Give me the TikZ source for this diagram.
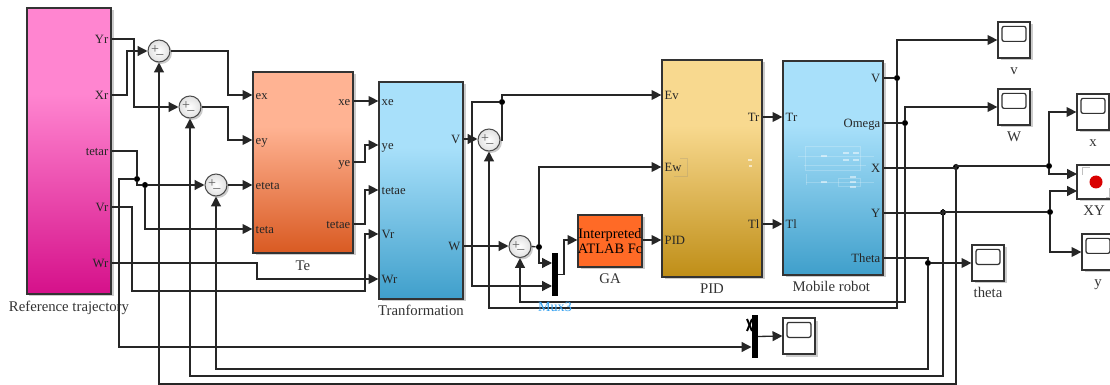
\documentclass[tikz,border=0pt]{standalone}
\usepackage{fontspec}
\setmainfont{Liberation Serif}
\usetikzlibrary{positioning, arrows.meta, shadows}
\newcommand{\px}{0.02cm}
\definecolor{reftop}{RGB}{255,133,208}
\definecolor{refbot}{RGB}{213,16,138}
\definecolor{tetop}{RGB}{255,179,147}
\definecolor{tebot}{RGB}{217,90,34}
\definecolor{bluetop}{RGB}{168,224,250}
\definecolor{bluebot}{RGB}{63,159,203}
\definecolor{pidtop}{RGB}{248,217,143}
\definecolor{pidbot}{RGB}{191,142,23}
\newcommand{\blockgrad}[3]{\pgfdeclareverticalshading{#1}{100bp}{color(0bp)=(#3); color(25bp)=(#3); color(60bp)=(#2); color(100bp)=(#2)}}
\blockgrad{refgrad}{reftop}{refbot}
\blockgrad{tegrad}{tetop}{tebot}
\blockgrad{bluegrad}{bluetop}{bluebot}
\blockgrad{pidgrad}{pidtop}{pidbot}
\tikzset{
  sig/.style = {draw = black!85, line width = 0.75pt, >={Triangle[length = 5.6pt, width = 5.6pt]}},
  block/.style = {draw = black!80, line width = 0.7pt, inner sep = 0pt,
    drop shadow = {shadow xshift = 0.05cm, shadow yshift = -0.05cm, opacity = 0.4}},
  sumnode/.style = {circle, draw = black!70, line width = 0.6pt, inner sep = 0pt, minimum size = 22*\px,
    inner color = white, outer color = black!12,
    drop shadow = {shadow xshift = 0.04cm, shadow yshift = -0.04cm, opacity = 0.4}},
  signtext/.style = {inner sep = 0pt, font = \fontsize{8}{9}\selectfont, text = black!65},
  scopebox/.style = {block, fill = white, minimum width = 32*\px, minimum height = 36*\px},
  screen/.style = {draw = black!80, line width = 0.7pt, rounded corners = 1.2pt, minimum width = 24*\px, minimum height = 15*\px, inner sep = 0pt},
  muxbar/.style = {fill = black, inner sep = 0pt, minimum width = 6*\px},
  jdot/.style = {circle, fill = black, inner sep = 0pt, minimum size = 6*\px},
  portin/.style = {anchor = west, inner xsep = 3*\px, inner ysep = 0pt, text height = 5pt, text depth = 0pt, text = black!85, font = \fontsize{7.2}{8}\selectfont},
  portout/.style = {portin, anchor = east},
  caption/.style = {inner sep = 0pt, text height = 5.6pt, text depth = 1.6pt, text = black!80, font = \fontsize{8.4}{9}\selectfont},
  ghost/.style = {draw = white, opacity = 0.22, line width = 0.35pt},
}

\begin{document}
\begin{tikzpicture}[x = 0.02cm, y = -0.02cm]
      \useasboundingbox (0, 0) rectangle (1110, 385);
      \clip (0, 0) rectangle (1110, 385);
      \node [block, shade, shading = refgrad, minimum width = 84*\px, minimum height = 286*\px] (Ref) at (69, 151) {};
      \node [block, shade, shading = tegrad, minimum width = 100*\px, minimum height = 181*\px] (Te) at (303, 162.5) {};
      \node [block, shade, shading = bluegrad, minimum width = 84*\px, minimum height = 217*\px] (Tra) at (421, 190.5) {};
      \node [block, shade, shading = pidgrad, minimum width = 100*\px, minimum height = 217*\px] (Pid) at (712, 168.5) {};
      \node [block, shade, shading = bluegrad, minimum width = 100*\px, minimum height = 214*\px] (Rob) at (833, 168) {};
      \node [block, fill = {rgb,255:red,255;green,106;blue,38}, minimum width = 64*\px, minimum height = 52*\px] (GA) at (610, 241) {};
      \begin{scope}
        \clip (GA.south west) rectangle (GA.north east);
        \node [inner sep = 0pt, align = center, font = \fontsize{8.2}{8.8}\selectfont] (GA-text) at (GA) {Interpreted\\ATLAB Fc};
      \end{scope}
      \foreach \name/\yy in {Yr/39, Xr/95, tetar/151, Vr/207, Wr/263}{
        \node [portout] (Ref-\name) at (Ref.east |- 0, \yy) {\name};
      }
      \foreach \name/\yy in {ex/95, ey/140, eteta/185, teta/229}{
        \node [portin] (Te-\name) at (Te.west |- 0, \yy) {\name};
      }
      \foreach \name/\yy in {xe/101, ye/162, tetae/224}{
        \node [portout] (Te-\name) at (Te.east |- 0, \yy) {\name};
      }
      \foreach \name/\yy in {xe/101, ye/145, tetae/190, Vr/234, Wr/279}{
        \node [portin] (Tra-\name) at (Tra.west |- 0, \yy) {\name};
      }
      \foreach \name/\yy in {V/139, W/246}{
        \node [portout] (Tra-\name) at (Tra.east |- 0, \yy) {\name};
      }
      \foreach \name/\yy in {Ev/95, Ew/167, PID/240}{
        \node [portin] (Pid-\name) at (Pid.west |- 0, \yy) {\name};
      }
      \foreach \name/\yy in {Tr/117, Tl/224}{
        \node [portout] (Pid-\name) at (Pid.east |- 0, \yy) {\name};
        \node [portin] (Rob-\name) at (Rob.west |- 0, \yy) {\name};
      }
      \foreach \name/\yy in {V/78, Omega/123, X/168, Y/213, Theta/258}{
        \node [portout] (Rob-\name) at (Rob.east |- 0, \yy) {\name};
      }
      \node [caption, below = 0.13cm of Ref] (Ref-label) {Reference trajectory};
      \node [caption, below = 0.13cm of Te] (Te-label) {Te};
      \node [caption, below = 0.11cm of Tra] (Tra-label) {Tranformation};
      \node [caption, below = 0.11cm of Pid] (Pid-label) {PID};
      \node [caption, below = 0.11cm of Rob, xshift = -1pt] (Rob-label) {Mobile robot};
      \node [caption, below = 0.11cm of GA] (GA-label) {GA};
      \foreach \name/\xx/\yy in {sum1/159/51, sum2/190/107, sum3/216/185, sum4/489/140, sum5/520/246.5}{
        \node [sumnode] (\name) at (\xx, \yy) {};
        \node [signtext] (\name-plus) at ([xshift = -4*\px, yshift = 1*\px]\name) {+};
        \node [signtext] (\name-minus) at ([xshift = 1*\px, yshift = -3*\px]\name) {\_};
      }
      \foreach \name/\xx/\yy/\txt in {scV/1014/40/v, scW/1014/107/W, scX/1093/112/x, scY/1098/252/y, scTheta/988/263/theta}{
        \node [scopebox] (\name) at (\xx, \yy) {};
        \node [screen] (\name-screen) at ([yshift = -12.5*\px]\name.north) {};
        \node [caption, below = 0.11cm of \name] (\name-label) {\txt};
      }
      \node [scopebox] (scMux) at (799, 336) {};
      \node [screen] (scMux-screen) at ([yshift = -12.5*\px]scMux.north) {};
      \node [scopebox, minimum width = 34*\px, minimum height = 34*\px] (scXY) at (1094, 182) {};
      \node [caption, below = 0.11cm of scXY] (scXY-label) {XY};
      \draw [draw = black!25, line width = 0.4pt] (1090, 167) -- (1082, 167) -- (1082, 175);
      \draw [draw = black!25, line width = 0.4pt] (1106, 197) -- (1109, 197) -- (1109, 188);
      \fill [red!85!black] (1096, 182) circle [radius = 6.5];
      \node [muxbar, minimum height = 43*\px] (mux3) at (555, 274.5) {};
      \node [muxbar, minimum height = 43*\px] (mux2) at (754.5, 336.5) {};
      \coordinate (mux3a) at (552, 263);
      \coordinate (mux3b) at (552, 286);
      \coordinate (mux2a) at (751.5, 347);
      \coordinate (scXYa) at (1077, 174);
      \coordinate (scXYb) at (1077, 191);
      \node [jdot] (jA) at (137, 179) {};
      \node [jdot] (jB) at (145, 185) {};
      \node [jdot] (jC) at (502, 102) {};
      \node [jdot] (jD) at (539, 247) {};
      \node [jdot] (jV) at (897, 78) {};
      \node [jdot] (jW) at (905, 123) {};
      \node [jdot] (jX) at (956, 167) {};
      \node [jdot] (jY) at (943, 212.5) {};
      \node [jdot] (jTheta) at (928, 263) {};
      \node [jdot] (jX2) at (1049, 166) {};
      \node [jdot] (jY2) at (1050, 212) {};
      \draw [sig, ->] (Ref-Yr.east) -- (134, 39) |- (sum2.west);
      \draw [sig, ->] (Ref-Xr.east) -- (127, 95) |- (sum1.west);
      \draw [sig] (Ref-tetar.east) -- (137, 151) -- (jA);
      \draw [sig, ->] (jA) -- (137, 185) -- (jB) -- (sum3.west);
      \draw [sig, ->] (jB) |- (Te-teta.west);
      \draw [sig, ->] (jA) -| (119, 347) -- (mux2a);
      \draw [sig, ->] (Ref-Vr.east) -- (132, 207) |- (365, 291) |- (Tra-Vr.west);
      \draw [sig, ->] (Ref-Wr.east) -- (257, 263) |- (Tra-Wr.west);
      \draw [sig, ->] (sum1.east) -- (228, 51) |- (Te-ex.west);
      \draw [sig, ->] (sum2.east) -- (228, 107) |- (Te-ey.west);
      \draw [sig, ->] (sum3.east) -- (Te-eteta.west);
      \draw [sig, ->] (Te-xe.east) -- (Tra-xe.west);
      \draw [sig, ->] (Te-ye.east) -- (365, 162) |- (Tra-ye.west);
      \draw [sig, ->] (Te-tetae.east) -- (365, 224) |- (Tra-tetae.west);
      \draw [sig, ->] (Tra-V.east) -- (Tra-V.east -| sum4.west);
      \draw [sig, ->] (Tra-W.east) -- (Tra-W.east -| sum5.west);
      \draw [sig] (sum4.east) -- (502, 140) -- (jC);
      \draw [sig, ->] (jC) |- (Pid-Ev.west);
      \draw [sig, ->] (jC) -- (472, 102) |- (mux3b);
      \draw [sig] (sum5.east) -- (jD);
      \draw [sig, ->] (jD) |- (Pid-Ew.west);
      \draw [sig, ->] (jD) |- (mux3a);
      \draw [sig, ->] (mux3.east) -- (564, 274.5) |- (GA.west |- 0, 240);
      \draw [sig, ->] (GA.east |- 0, 240) -- (Pid-PID.west);
      \draw [sig, ->] (Pid-Tr.east) -- (Rob-Tr.west);
      \draw [sig, ->] (Pid-Tl.east) -- (Rob-Tl.west);
      \draw [sig] (Rob-V.east) -- (jV);
      \draw [sig, ->] (jV) |- (scV.west);
      \draw [sig, ->] (jV) |- (sum4.south |- 0, 308) -- (sum4.south);
      \draw [sig] (Rob-Omega.east) -- (jW);
      \draw [sig, ->] (jW) |- (scW.west);
      \draw [sig, ->] (jW) |- (sum5.south |- 0, 302) -- (sum5.south);
      \draw [sig] (Rob-X.east) -- (956, 168) -- (jX);
      \draw [sig] (jX) -- (956, 166) -- (jX2);
      \draw [sig, ->] (jX) |- (159, 384) -- (sum1.south);
      \draw [sig, ->] (jX2) |- (scX.west);
      \draw [sig, ->] (jX2) |- (scXYa);
      \draw [sig] (Rob-Y.east) -- (943, 213) -- (jY);
      \draw [sig] (jY) -- (943, 212) -- (jY2);
      \draw [sig, ->] (jY) |- (190, 376) -- (sum2.south);
      \draw [sig, ->] (jY2) |- (scXYb);
      \draw [sig, ->] (jY2) |- (scY.west);
      \draw [sig] (Rob-Theta.east) -- (928, 258) -- (jTheta);
      \draw [sig, ->] (jTheta) -- (scTheta.west);
      \draw [sig, ->] (jTheta) |- (216, 369) -- (sum3.south);
      \draw [sig, ->] (mux2.east) -- (scMux.west);
      \draw [line width = 1.1pt] (747, 319) -- (752, 331);
      \draw [line width = 1.1pt] (747, 331) -- (752, 319);
      \node [inner sep = 0pt, text = {rgb,255:red,50;green,160;blue,240}, font = \fontsize{8}{9}\selectfont] (mux3-label) at (555, 307) {Mux3};
      \begin{scope}
        \draw [ghost] (805, 146) rectangle (860, 170);
        \draw [ghost] (798, 156) -- (874, 156);
        \draw [ghost] (804, 165) -- (866, 165);
        \draw [ghost] (806, 182) -- (874, 182);
        \draw [ghost] (806, 174) -- (806, 185);
        \draw [ghost] (838, 178) rectangle (860, 186);
        \foreach \xx/\yy in {824/156, 824/182, 846/153, 856/153, 846/160, 856/160, 853/177, 853/182, 853/187}{
          \fill [white, opacity = 0.5] (\xx - 3, \yy - 1) rectangle (\xx + 3, \yy + 1);
        }
        \draw [ghost, draw = black!50] (680, 158) -- (687, 158) -- (687, 176) -- (674, 176);
        \fill [white, opacity = 0.6] (748, 159) rectangle (752, 161);
        \fill [white, opacity = 0.6] (749, 165) rectangle (752, 167);
      \end{scope}
\end{tikzpicture}
\end{document}
